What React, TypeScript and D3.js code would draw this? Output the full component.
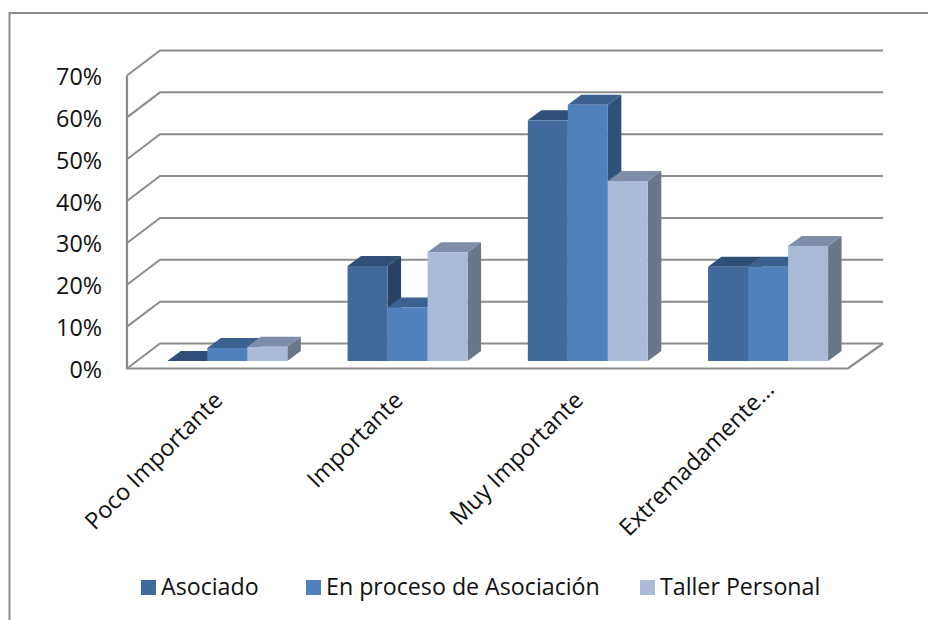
import React from "react";
import * as d3 from "d3";

const categories = ["Poco Importante", "Importante", "Muy Importante", "Extremadamente..."];
const seriesNames = ["Asociado", "En proceso de Asociación", "Taller Personal"];
const asociado = [0, 22.7, 57.5, 22.5];
const enProceso = [3.1, 12.8, 61.2, 22.5];
const tallerPersonal = [3.4, 26, 43, 27.5];
const yTicks = [0, 10, 20, 30, 40, 50, 60, 70];
const seriesValues = [asociado, enProceso, tallerPersonal];
const frontColors = ["#406A9C", "#4F81BD", "#AABAD7"];
const topColors = ["#2F4F79", "#3A6190", "#7F8DA8"];
const sideColors = ["#284364", "#2F5079", "#6A7789"];

const font = "'Open Sans', 'Noto Sans', sans-serif";
const y = d3.scaleLinear().domain([0, 70]).range([368.5, 75.5]);
const xGroup = d3.scaleBand<number>().domain([0, 1, 2, 3]).range([127, 848]);
const depth = { dx: 33, dy: -25 };
const barDepth = { dx: 13.5, dy: -10 };
const baseY = y(0) - 7.5;
const barW = 40;

const poly = (pts: [number, number][]) => pts.map((p) => p.join(",")).join(" ");

export default function App() {
  const grid = "#8C8C8C";
  return (
    <svg width={928} height={620} style={{ position: "absolute", left: 0, top: 0 }} fontFamily={font}>
      <rect width={928} height={620} fill="#fff" />
      <path d="M9.5,620V13H928" fill="none" stroke="#8C8C8C" strokeWidth={2} />
      {yTicks.map((t) => (
        <g key={t}>
          <polyline
            points={poly([[127, y(t)], [127 + depth.dx, y(t) + depth.dy], [883, y(t) + depth.dy]])}
            fill="none" stroke={grid} strokeWidth={2}
          />
          <text x={102} y={y(t) + 9.5} textAnchor="end" fontSize={23.3} fill="#111">{t}%</text>
        </g>
      ))}
      <polyline points={poly([[127, y(70)], [127, y(0)], [848, y(0)], [883, y(0) + depth.dy]])} fill="none" stroke={grid} strokeWidth={2.2} />
      {categories.map((c, i) => {
        const cx = xGroup(i)! + xGroup.bandwidth() / 2;
        const x0 = cx - 49.8;
        const nudge = c.endsWith("...") ? 11 : 0;
        return (
          <g key={c}>
            {[0, 1, 2].map((s) => {
              const v = seriesValues[s][i];
              const bx = x0 + s * barW;
              const top = baseY - (y(0) - y(v));
              return (
                <g key={s}>
                  <polygon points={poly([[bx + barW, top], [bx + barW + barDepth.dx, top + barDepth.dy], [bx + barW + barDepth.dx, baseY + barDepth.dy], [bx + barW, baseY]])} fill={sideColors[s]} />
                  <polygon points={poly([[bx, top], [bx + barDepth.dx, top + barDepth.dy], [bx + barW + barDepth.dx, top + barDepth.dy], [bx + barW, top]])} fill={topColors[s]} />
                  {v > 0 && <rect x={bx} y={top} width={barW} height={baseY - top} fill={frontColors[s]} />}
                </g>
              );
            })}
            <text transform={`translate(${cx + 1 + nudge},${396 - nudge}) rotate(-45)`} textAnchor="end" fontSize={23.4} dy="0.35em" fill="#111">{c}</text>
          </g>
        );
      })}
      {seriesNames.map((n, i) => {
        const lx = [141, 306, 640][i];
        return (
          <g key={n}>
            <rect x={lx} y={580} width={15} height={15} fill={frontColors[i]} />
            <text x={lx + 20} y={595} fontSize={23.2} fill="#111">{n}</text>
          </g>
        );
      })}
    </svg>
  );
}
